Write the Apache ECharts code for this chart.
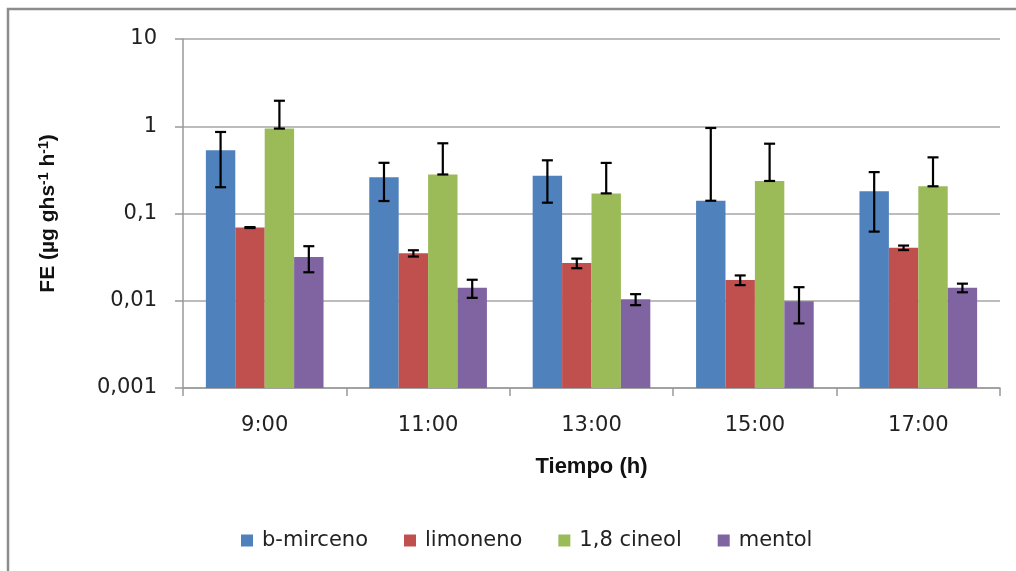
<!DOCTYPE html>
<html>
<head>
<meta charset="utf-8">
<script src="https://cdn.jsdelivr.net/npm/echarts@6/dist/echarts.min.js"></script>
<style>
html,body{margin:0;padding:0;background:#fff;}
#chart{width:1016px;height:571px;}
</style>
</head>
<body>
<div id="chart"></div>
<script>
const categories = ['9:00', '11:00', '13:00', '15:00', '17:00'];
const seriesNames = ['b-mirceno', 'limoneno', '1,8 cineol', 'mentol'];
const bMirceno = [0.53, 0.26, 0.27, 0.14, 0.18];
const limoneno = [0.069, 0.035, 0.027, 0.0173, 0.0405];
const cineol = [0.94, 0.28, 0.17, 0.236, 0.205];
const mentol = [0.0317, 0.0141, 0.0104, 0.0099, 0.0141];
const bMircenoErr = [0.33, 0.121, 0.137, 0.815, 0.118];
const limonenoErr = [0.0008, 0.0029, 0.0034, 0.0022, 0.0024];
const cineolErr = [1.02, 0.358, 0.21, 0.395, 0.235];
const mentolErr = [0.0105, 0.0033, 0.0015, 0.0044, 0.0016];
const yTickLabels = ['0,001', '0,01', '0,1', '1', '10'];
const colors = ['#4F81BD', '#C0504D', '#9BBB59', '#8064A2'];

const values = [bMirceno, limoneno, cineol, mentol];
const errors = [bMircenoErr, limonenoErr, cineolErr, mentolErr];
const CAT_GAP = 0.28;
const FONT = 'DejaVu Sans';
const TFONT = 'Liberation Sans';

const chart = echarts.init(document.getElementById('chart'), null, {renderer: 'canvas'});

const barSeries = seriesNames.map((name, i) => ({
  name: name,
  type: 'bar',
  data: values[i],
  barGap: '0%',
  barCategoryGap: (CAT_GAP * 100) + '%',
  itemStyle: {color: colors[i]},
  emphasis: {disabled: true},
  z: 2
}));

const errSeries = seriesNames.map((name, i) => ({
  type: 'custom',
  name: name + '_err',
  z: 5,
  silent: true,
  data: categories.map((c, k) => {
    const v = values[i][k], e = errors[i][k];
    const lo = v - e > 0 ? v - e : v;
    return [k, v + e, lo, i];
  }),
  encode: {x: 0, y: [1, 2]},
  renderItem: function (params, api) {
    const k = api.value(0);
    const hi = api.value(1);
    const lo = api.value(2);
    const si = api.value(3);
    const band = api.size([1, 0])[0];
    const bw = band * (1 - CAT_GAP) / 4;
    const pHi = api.coord([k, hi]);
    const pLo = api.coord([k, lo]);
    const x = pHi[0] + (si - 1.5) * bw;
    const cap = 5.5;
    const st = {stroke: '#000', lineWidth: 2.2};
    return {
      type: 'group',
      children: [
        {type: 'line', shape: {x1: x, y1: pHi[1], x2: x, y2: pLo[1]}, style: st},
        {type: 'line', shape: {x1: x - cap, y1: pHi[1], x2: x + cap, y2: pHi[1]}, style: st},
        {type: 'line', shape: {x1: x - cap, y1: pLo[1], x2: x + cap, y2: pLo[1]}, style: st}
      ]
    };
  }
}));

const option = {
  animation: false,
  color: colors,
  textStyle: {fontFamily: FONT},
  graphic: [{
    type: 'rect',
    shape: {x: 8, y: 9, width: 1100, height: 700},
    style: {fill: 'none', stroke: '#8c8c8c', lineWidth: 2.5},
    silent: true,
    z: -10
  }],
  grid: {left: 183, right: 16, top: 39, bottom: 183, containLabel: false},
  legend: {
    data: seriesNames,
    top: 525,
    left: 236,
    icon: 'rect',
    itemWidth: 12,
    itemHeight: 12,
    itemGap: 36,
    textStyle: {fontFamily: FONT, fontSize: 21, color: '#222', padding: [0, 0, 0, 4]}
  },
  xAxis: {
    type: 'category',
    data: categories,
    name: 'Tiempo (h)',
    nameLocation: 'middle',
    nameGap: 68,
    nameTextStyle: {fontFamily: TFONT, fontSize: 22, fontWeight: 'bold', color: '#111'},
    axisLine: {lineStyle: {color: '#999', width: 1.5}},
    axisTick: {show: true, alignWithLabel: false, length: 8, lineStyle: {color: '#999', width: 1.5}},
    axisLabel: {margin: 27, fontSize: 21, color: '#222', fontFamily: FONT},
    splitLine: {show: false}
  },
  yAxis: {
    type: 'log',
    logBase: 10,
    min: 0.001,
    max: 10,
    startValue: 0.001,
    name: '{a|FE (µg ghs}{s|-1}{a| h}{s|-1}{a|)}',
    nameLocation: 'middle',
    nameRotate: 90,
    nameGap: 124,
    nameTextStyle: {
      rich: {
        a: {fontFamily: TFONT, fontSize: 21, fontWeight: 'bold', color: '#111'},
        s: {fontFamily: TFONT, fontSize: 14, fontWeight: 'bold', color: '#111', verticalAlign: 'top', padding: [0, 0, 8, 0]}
      }
    },
    axisLine: {show: true, lineStyle: {color: '#999', width: 1.5}},
    axisTick: {show: true, inside: false, length: 8, lineStyle: {color: '#999', width: 1.5}},
    axisLabel: {
      margin: 26,
      fontSize: 21,
      color: '#222',
      fontFamily: FONT,
      formatter: function (v) {
        const idx = Math.round(Math.log10(v)) + 3;
        return yTickLabels[idx];
      }
    },
    splitLine: {show: true, lineStyle: {color: '#a6a6a6', width: 1.5}}
  },
  series: barSeries.concat(errSeries)
};
chart.setOption(option);
</script>
</body>
</html>
